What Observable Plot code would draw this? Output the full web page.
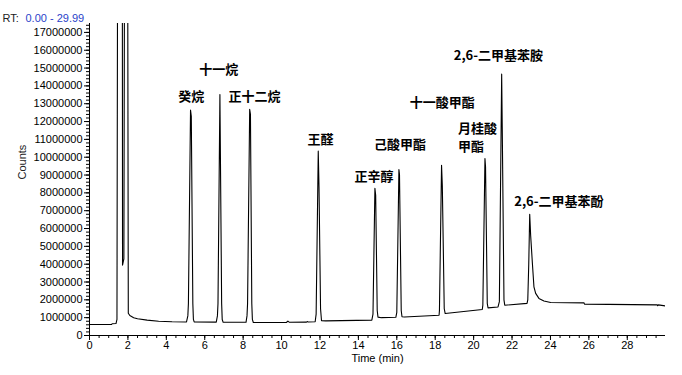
<!DOCTYPE html>
<html><head><meta charset="utf-8">
<script src="https://cdn.jsdelivr.net/npm/d3@7"></script>
<script src="https://cdn.jsdelivr.net/npm/@observablehq/plot@0.6"></script>
<style>
html,body{margin:0;padding:0;background:#fff;}
#chart{width:682px;height:375px;}
</style></head><body><div id="chart"></div>
<script>
// Chromatogram trace: retention time (min) and counts (millions)
const traceTime = [0.00,1.15,1.18,1.38,1.43,1.46,1.71,1.72,1.79,1.82,1.99,2.02,2.10,2.30,2.50,3.00,3.60,4.30,
  5.05,5.12,5.15,5.26,5.30,5.38,5.41,5.45,
  6.60,6.66,6.69,6.79,6.88,6.91,6.96,
  8.15,8.20,8.23,8.34,8.38,8.45,8.48,8.53,
  10.25,10.33,10.41,11.30,11.34,11.38,
  11.75,11.80,11.91,11.95,12.03,12.08,12.30,
  14.70,14.76,14.86,14.90,14.98,15.02,15.20,
  15.95,16.00,16.11,16.14,16.23,16.27,16.40,
  18.20,18.22,18.33,18.37,18.47,18.52,
  20.45,20.48,20.59,20.62,20.71,20.75,
  21.27,21.34,21.46,21.49,21.58,21.62,
  22.78,22.82,22.87,22.92,22.97,23.06,23.14,23.23,23.40,23.66,24.01,25.75,25.77,29.56,29.58,29.62,29.99];
const traceCountsM = [0.62,0.62,0.66,0.67,0.90,20,20,3.95,4.30,20,20,1.25,1.12,1.00,0.94,0.86,0.80,0.77,
  0.76,1.10,1.80,12.64,12.30,1.80,0.90,0.76,
  0.75,1.10,1.80,13.52,1.80,0.90,0.74,
  0.74,1.10,1.80,12.69,12.40,1.80,0.90,0.73,
  0.73,0.81,0.74,0.75,0.78,0.76,
  0.77,1.20,10.34,8.30,1.50,0.83,0.82,
  0.86,1.20,8.25,7.86,1.40,1.03,1.00,
  1.02,1.30,9.31,9.03,1.40,1.05,1.04,
  1.14,1.40,9.55,8.40,1.50,1.23,
  1.46,1.70,9.93,9.46,1.80,1.55,
  1.60,1.90,14.66,11.70,2.00,1.70,
  1.80,2.00,4.00,6.80,5.60,4.04,2.73,2.36,2.08,1.94,1.85,1.83,1.76,1.72,1.67,1.72,1.66];

// Peak labels and where their text sits (time, counts in millions)
const labelNames = ["癸烷","十一烷","正十二烷","王醛","正辛醇","己酸甲酯","十一酸甲酯","月桂酸\n甲酯","2,6-二甲基苯胺","2,6-二甲基苯酚"];
const labelTime = [5.30,6.73,8.59,12.03,14.81,16.16,18.37,19.18,21.29,24.44];
const labelCountsM = [13.38,14.88,13.37,10.99,8.90,10.71,13.05,11.16,15.66,7.49];

const xTickLabels = [0,2,4,6,8,10,12,14,16,18,20,22,24,26,28];
const yTickLabels = [0,1e6,2e6,3e6,4e6,5e6,6e6,7e6,8e6,9e6,10e6,11e6,12e6,13e6,14e6,15e6,16e6,17e6];
const xMinor = d3.range(0, 30, 0.5);
const yMinor = d3.range(0, 17.5e6, 2e5);

const trace = traceTime.map((t, i) => ({t, c: traceCountsM[i] * 1e6}));
const labels = labelNames.map((name, i) => ({name, t: labelTime[i], c: labelCountsM[i] * 1e6}));

const labelFont = {fontSize: 13, fontWeight: "bold", fontFamily: "Noto Sans CJK SC", fill: "#000"};

const chart = Plot.plot({
  width: 682, height: 375,
  marginLeft: 89, marginRight: 17, marginTop: 23, marginBottom: 40,
  style: {fontFamily: "Liberation Sans", fontSize: "11px", color: "#000", background: "#fff"},
  x: {domain: [0, 29.99], label: null},
  y: {domain: [0, 17.5e6], label: null},
  marks: [
    Plot.axisX(xMinor, {tickSize: 3, tickFormat: () => "", label: null, stroke: "#000"}),
    Plot.axisX(xTickLabels, {tickSize: 5, tickPadding: 1, fontSize: 11, label: null, stroke: "#000"}),
    Plot.axisY(yMinor, {tickSize: 3, tickFormat: () => "", label: null, stroke: "#000"}),
    Plot.axisY(yTickLabels, {tickSize: 5, tickPadding: 2, fontSize: 11, tickFormat: d3.format("d"), label: null, stroke: "#000"}),
    Plot.ruleY([0], {stroke: "#000"}),
    Plot.ruleX([0], {stroke: "#000"}),
    Plot.line(trace, {x: "t", y: "c", stroke: "#000", strokeWidth: 1.1, clip: true}),
    Plot.text(labels.filter(d => !d.name.includes("\n")), {x: "t", y: "c", text: "name", ...labelFont}),
    Plot.text(labels.filter(d => d.name.includes("\n")), {x: "t", y: "c", text: "name", textAnchor: "start", lineHeight: 1.33, ...labelFont}),
    Plot.text(["Time (min)"], {frameAnchor: "bottom", dy: 26, fontSize: 11, fill: "#000"}),
    Plot.text(["Counts"], {frameAnchor: "left", dx: -67, rotate: -90, fontSize: 11, fill: "#222"}),
    Plot.text(["RT:"], {frameAnchor: "top-left", dx: -87, dy: -9, textAnchor: "start", fontSize: 11, fill: "#222"}),
    Plot.text(["0.00 - 29.99"], {frameAnchor: "top-left", dx: -64, dy: -9, textAnchor: "start", fontSize: 11, fill: "#2a3fc9"})
  ]
});
document.getElementById("chart").appendChild(chart);
</script>
</body></html>
